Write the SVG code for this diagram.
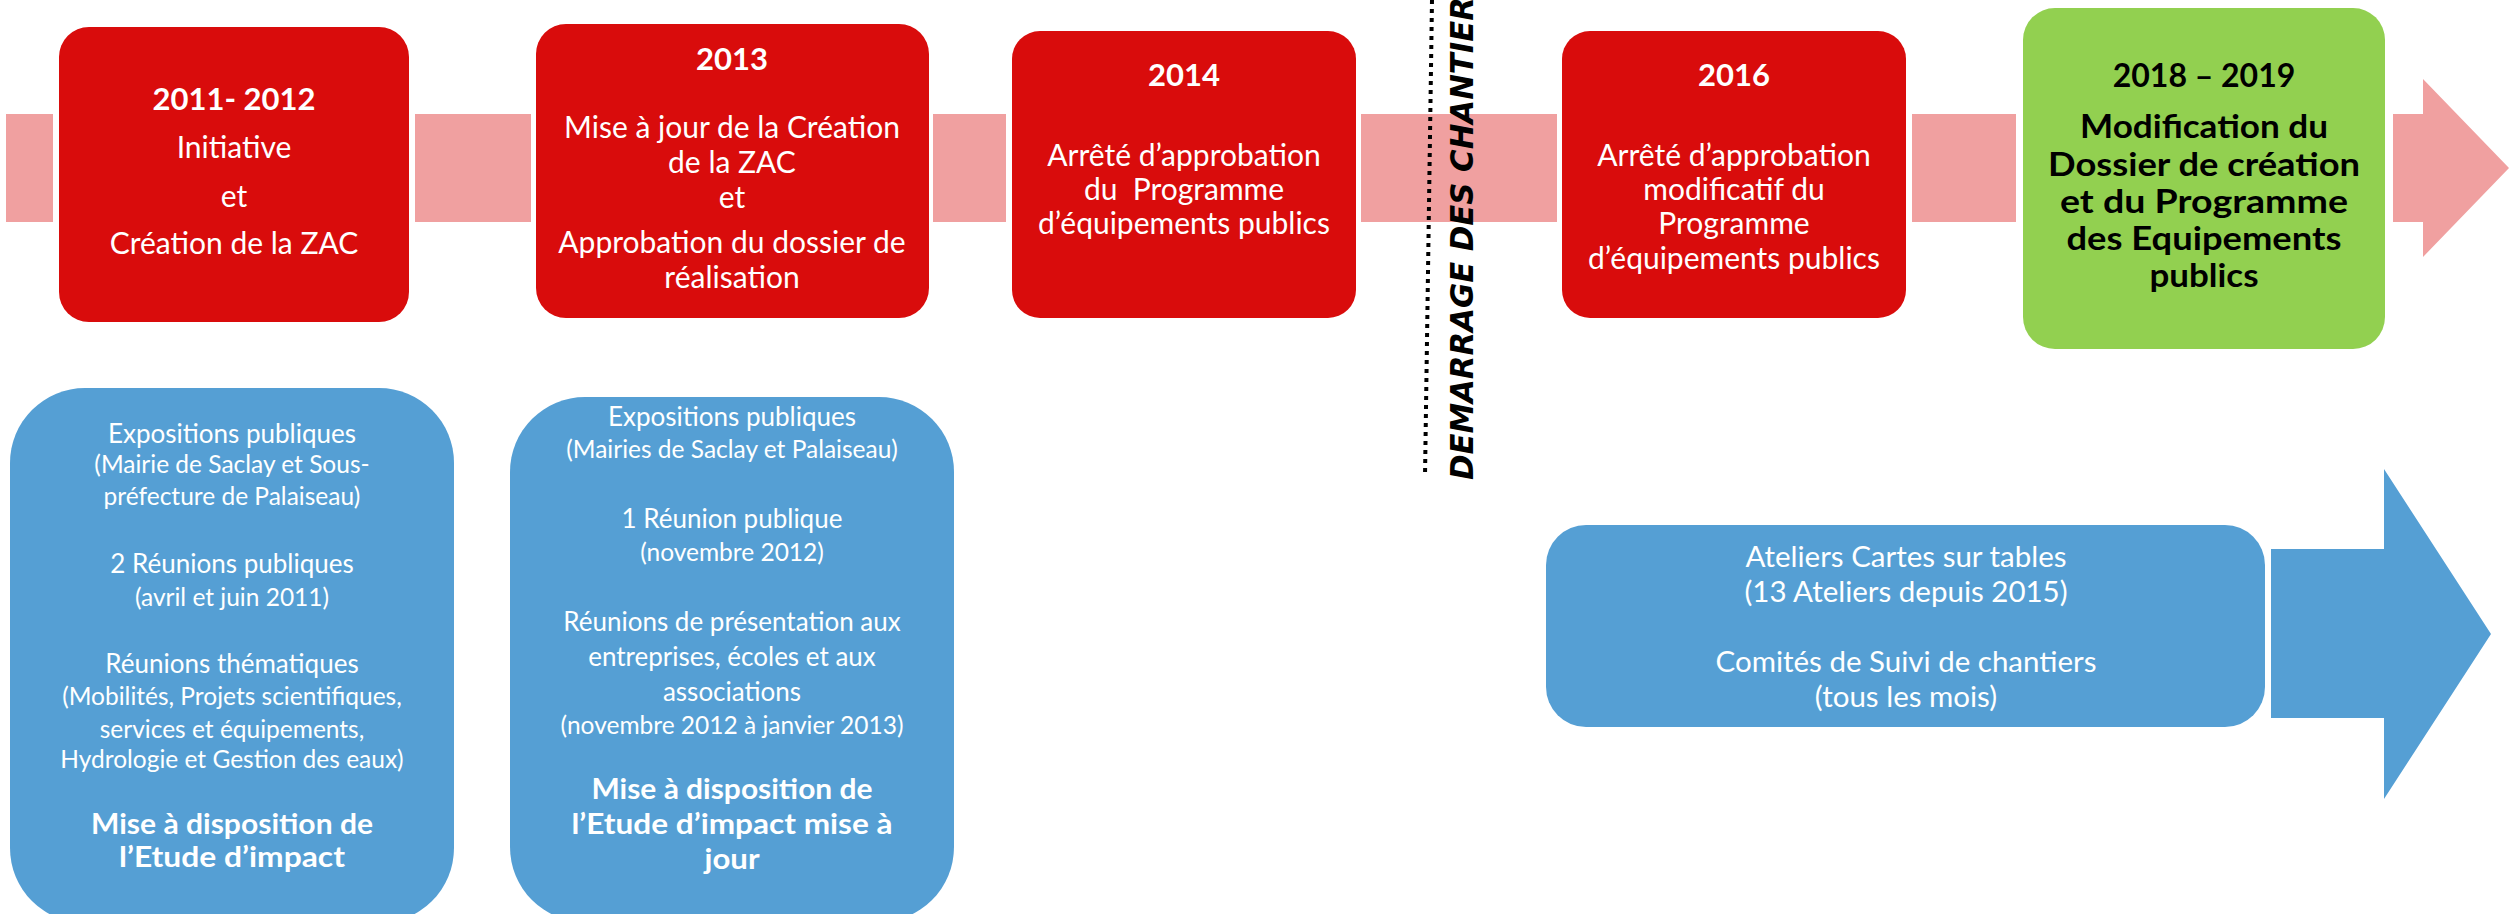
<svg xmlns="http://www.w3.org/2000/svg" width="2509" height="914" viewBox="0 0 2509 914">
<style>
.red{fill:#D90C0C}
.green{fill:#92D050}
.blue{fill:#559FD4}
.band{fill:#F0A0A0}
text{font-family:Lato,"Open Sans","DejaVu Sans",sans-serif;text-anchor:middle;white-space:pre}
.w{fill:#FFFFFF}
.k{fill:#000000}
.yr{font-weight:bold;font-size:31px}
.rt{font-size:30px}
.gt{font-weight:bold;font-size:33px}
.bt{font-size:26px}
.bs{font-size:24.5px}
.bb{font-size:28px;font-weight:bold}
.b3{font-size:29.5px}
.vert{font-family:"DejaVu Sans",sans-serif;font-weight:bold;font-style:italic;font-size:32px;text-anchor:start;fill:#000}
</style>
<rect width="2509" height="914" fill="#FFFFFF"/>
<g id="timeline">
<rect class="band" x="6" y="114" width="47" height="108"/>
<rect class="band" x="415" y="114" width="116" height="108"/>
<rect class="band" x="933" y="114" width="73" height="108"/>
<rect class="band" x="1361" y="114" width="196" height="108"/>
<rect class="band" x="1912" y="114" width="104" height="108"/>
<polygon class="band" points="2393,114 2423,114 2423,79 2509,168 2423,257 2423,222 2393,222"/>
<polygon class="blue" points="2271,549 2384,549 2384,469 2491,634 2384,799 2384,718 2271,718"/>
</g>
<g id="milestone">
<line x1="1432" y1="0" x2="1425" y2="476" stroke="#000" stroke-width="4" stroke-dasharray="4 5"/>
<text class="vert" transform="translate(1473,480) rotate(-90)" textLength="505" lengthAdjust="spacingAndGlyphs">DEMARRAGE DES CHANTIERS</text>
</g>
<g id="n2011">
<rect class="red" x="59" y="27" width="350" height="295" rx="30"/>
<text class="w yr" x="234" y="110">2011- 2012</text>
<text class="w rt" x="234" y="158">Initiative</text>
<text class="w rt" x="234" y="207">et</text>
<text class="w rt" x="234" y="254">Création de la ZAC</text>
</g>
<g id="n2013">
<rect class="red" x="536" y="24" width="393" height="294" rx="30"/>
<text class="w yr" x="732" y="70">2013</text>
<text class="w rt" x="732" y="138">Mise à jour de la Création</text>
<text class="w rt" x="732" y="173">de la ZAC</text>
<text class="w rt" x="732" y="208">et</text>
<text class="w rt" x="732" y="253">Approbation du dossier de</text>
<text class="w rt" x="732" y="288">réalisation</text>
</g>
<g id="n2014">
<rect class="red" x="1012" y="31" width="344" height="287" rx="28"/>
<text class="w yr" x="1184" y="86">2014</text>
<text class="w rt" x="1184" y="166">Arrêté d’approbation</text>
<text class="w rt" x="1184" y="200">du  Programme</text>
<text class="w rt" x="1184" y="234">d’équipements publics</text>
</g>
<g id="n2016">
<rect class="red" x="1562" y="31" width="344" height="287" rx="28"/>
<text class="w yr" x="1734" y="86">2016</text>
<text class="w rt" x="1734" y="166">Arrêté d’approbation</text>
<text class="w rt" x="1734" y="200">modificatif du</text>
<text class="w rt" x="1734" y="234">Programme</text>
<text class="w rt" x="1734" y="269">d’équipements publics</text>
</g>
<g id="n2018">
<rect class="green" x="2023" y="8" width="362" height="341" rx="32"/>
<text class="k yr" x="2204" y="87" style="font-size:32px">2018 – 2019</text>
<text class="k gt" x="2204" y="138" textLength="248" lengthAdjust="spacingAndGlyphs">Modification du</text>
<text class="k gt" x="2204" y="176" textLength="312" lengthAdjust="spacingAndGlyphs">Dossier de création</text>
<text class="k gt" x="2204" y="213" textLength="288" lengthAdjust="spacingAndGlyphs">et du Programme</text>
<text class="k gt" x="2204" y="250" textLength="275" lengthAdjust="spacingAndGlyphs">des Equipements</text>
<text class="k gt" x="2204" y="287" textLength="109" lengthAdjust="spacingAndGlyphs">publics</text>
</g>
<g id="concert1">
<rect class="blue" x="10" y="388" width="444" height="535" rx="75"/>
<text class="w bt" x="232" y="443">Expositions publiques</text>
<text class="w bs" x="232" y="473">(Mairie de Saclay et Sous-</text>
<text class="w bs" x="232" y="505">préfecture de Palaiseau)</text>
<text class="w bt" x="232" y="573">2 Réunions publiques</text>
<text class="w bs" x="232" y="606">(avril et juin 2011)</text>
<text class="w bt" x="232" y="673">Réunions thématiques</text>
<text class="w bs" x="232" y="705">(Mobilités, Projets scientifiques,</text>
<text class="w bs" x="232" y="738">services et équipements,</text>
<text class="w bs" x="232" y="768">Hydrologie et Gestion des eaux)</text>
<text class="w bb" x="232" y="834" textLength="282" lengthAdjust="spacingAndGlyphs">Mise à disposition de</text>
<text class="w bb" x="232" y="867" textLength="226" lengthAdjust="spacingAndGlyphs">l’Etude d’impact</text>
</g>
<g id="concert2">
<rect class="blue" x="510" y="397" width="444" height="525" rx="75"/>
<text class="w bt" x="732" y="426">Expositions publiques</text>
<text class="w bs" x="732" y="458">(Mairies de Saclay et Palaiseau)</text>
<text class="w bt" x="732" y="528">1 Réunion publique</text>
<text class="w bs" x="732" y="561">(novembre 2012)</text>
<text class="w bt" x="732" y="631">Réunions de présentation aux</text>
<text class="w bt" x="732" y="666">entreprises, écoles et aux</text>
<text class="w bt" x="732" y="701">associations</text>
<text class="w bs" x="732" y="734">(novembre 2012 à janvier 2013)</text>
<text class="w bb" x="732" y="799" textLength="281" lengthAdjust="spacingAndGlyphs">Mise à disposition de</text>
<text class="w bb" x="732" y="834" textLength="321" lengthAdjust="spacingAndGlyphs">l’Etude d’impact mise à</text>
<text class="w bb" x="732" y="869" textLength="55" lengthAdjust="spacingAndGlyphs">jour</text>
</g>
<g id="concert3">
<rect class="blue" x="1546" y="525" width="719" height="202" rx="40"/>
<text class="w b3" x="1906" y="567">Ateliers Cartes sur tables</text>
<text class="w b3" x="1906" y="602">(13 Ateliers depuis 2015)</text>
<text class="w b3" x="1906" y="672">Comités de Suivi de chantiers</text>
<text class="w b3" x="1906" y="707">(tous les mois)</text>
</g>
</svg>
